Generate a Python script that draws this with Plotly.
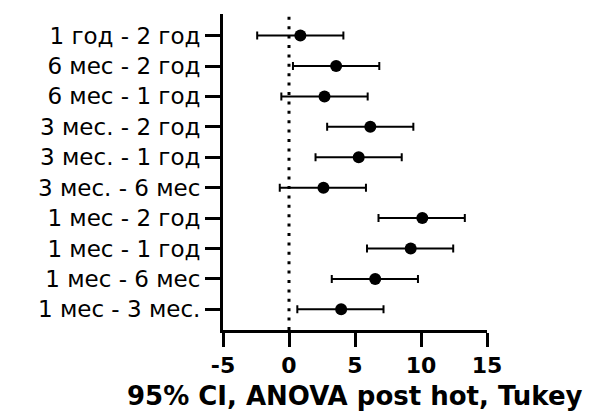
import plotly.graph_objects as go

comparisons = ["1 мес - 3 мес.", "1 мес - 6 мес", "1 мес - 1 год", "1 мес - 2 год",
               "3 мес. - 6 мес", "3 мес. - 1 год", "3 мес. - 2 год",
               "6 мес - 1 год", "6 мес - 2 год", "1 год - 2 год"]
mean_diff = [3.95, 6.53, 9.22, 10.10, 2.61, 5.28, 6.16, 2.69, 3.57, 0.86]
ci_low = [0.63, 3.24, 5.91, 6.78, -0.70, 2.01, 2.89, -0.58, 0.30, -2.41]
ci_high = [7.16, 9.77, 12.44, 13.32, 5.83, 8.54, 9.42, 5.96, 6.84, 4.12]
x_ticks = [-5, 0, 5, 10, 15]

ypos = list(range(len(comparisons)))
err_plus = [h - m for h, m in zip(ci_high, mean_diff)]
err_minus = [m - l for m, l in zip(mean_diff, ci_low)]

fig = go.Figure()
fig.add_trace(go.Scatter(
    x=mean_diff, y=ypos, mode="markers",
    marker=dict(color="black", size=12, symbol="circle"),
    error_x=dict(type="data", symmetric=False, array=err_plus, arrayminus=err_minus,
                 color="black", thickness=2, width=4),
    showlegend=False, cliponaxis=False,
))

fig.add_shape(type="line", xref="x", yref="paper", x0=0, x1=0, y0=0, y1=1,
              line=dict(color="black", width=3, dash="3px,6.4px"), layer="below")

font_family = "DejaVu Sans, Liberation Sans, Arial, sans-serif"
fig.update_layout(
    width=594, height=408,
    margin=dict(l=215, r=115, t=6, b=86),
    paper_bgcolor="white", plot_bgcolor="white",
    font=dict(family=font_family, color="black"),
    xaxis=dict(range=[-5, 15], tickvals=x_ticks, ticktext=[str(v) for v in x_ticks],
               showline=True, linecolor="black", linewidth=3,
               ticks="outside", ticklen=14, tickwidth=3, tickcolor="black",
               tickfont=dict(size=22, family=font_family, weight="bold"),
               showgrid=False, zeroline=False),
    yaxis=dict(range=[-0.68, 9.71], tickvals=ypos, ticktext=comparisons,
               showline=True, linecolor="black", linewidth=3,
               ticks="outside", ticklen=15, tickwidth=3, tickcolor="black",
               tickfont=dict(size=23, family=font_family),
               showgrid=False, zeroline=False),
)
fig.add_annotation(text="<b>95% CI, ANOVA post hot, Tukey</b>", xref="paper", yref="paper",
                   x=0.5, y=-(396 - 330) / 316, yanchor="middle", showarrow=False,
                   font=dict(size=26, family=font_family, color="black"))

fig.write_html("out.html")
